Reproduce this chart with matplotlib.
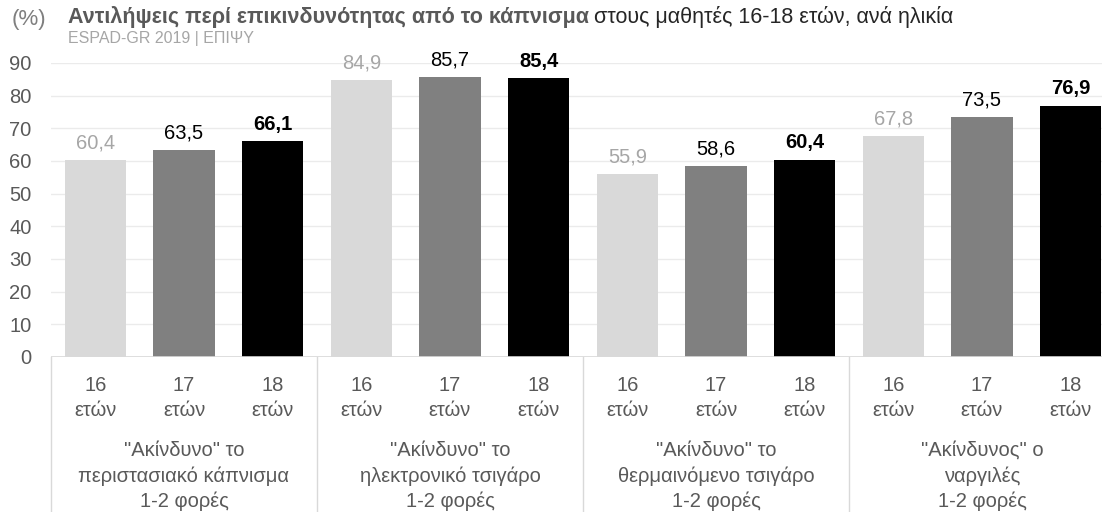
import numpy as np
import matplotlib
matplotlib.use("Agg")
import matplotlib.pyplot as plt
import matplotlib.transforms as mtransforms

plt.rcParams['font.family'] = ['Liberation Sans', 'DejaVu Sans']

# δεδομένα
ηλικιες = ["16\nετών", "17\nετών", "18\nετών"]
ομαδες = ['"Ακίνδυνο" το\nπεριστασιακό κάπνισμα\n1-2 φορές',
          '"Ακίνδυνο" το\nηλεκτρονικό τσιγάρο\n1-2 φορές',
          '"Ακίνδυνο" το\nθερμαινόμενο τσιγάρο\n1-2 φορές',
          '"Ακίνδυνος" ο\nναργιλές\n1-2 φορές']
τιμες_16 = [60.4, 84.9, 55.9, 67.8]
τιμες_17 = [63.5, 85.7, 58.6, 73.5]
τιμες_18 = [66.1, 85.4, 60.4, 76.9]

χρωματα = ["#d9d9d9", "#808080", "#000000"]
χρωμα_ετικετας = ["#a6a6a6", "#000000", "#000000"]
βαρος = ["normal", "normal", "bold"]

fig = plt.figure(figsize=(11.02, 5.12), dpi=100)
ax = fig.add_axes([51/1102, 155/512, 1064/1102, 294/512])

σειρες = [τιμες_16, τιμες_17, τιμες_18]
for j, τιμες in enumerate(σειρες):
    x = np.arange(len(ομαδες)) * 3 + j
    ax.bar(x, τιμες, width=0.69, color=χρωματα[j], zorder=2)
    for xi, v in zip(x, τιμες):
        ax.text(xi, v + 3.5, f"{v:.1f}".replace(".", ","), ha="center", va="baseline",
                fontsize=14.5, color=χρωμα_ετικετας[j], fontweight=βαρος[j], clip_on=False)

ax.set_xlim(-0.5, 11.5)
ax.set_ylim(0, 90)
ax.set_yticks(range(0, 91, 10))
ax.tick_params(axis="y", length=0, labelsize=14.5, labelcolor="#595959", pad=14)
ax.set_xticks([])
for s in ax.spines.values():
    s.set_visible(False)
ax.grid(axis="y", color="#ebebeb", linewidth=1, zorder=0)
ax.axhline(0, color="#d9d9d9", linewidth=1.2, zorder=3)

trans = mtransforms.blended_transform_factory(ax.transData, ax.transAxes)
for i in range(12):
    ax.text(i, -0.138, ηλικιες[i % 3], transform=trans, ha="center", va="center",
            fontsize=14.5, color="#595959", linespacing=1.4)
for g, ομαδα in enumerate(ομαδες):
    ax.text(g * 3 + 1, -0.405, ομαδα, transform=trans, ha="center", va="center",
            fontsize=14.5, color="#595959", linespacing=1.4)
    ax.plot([g * 3 - 0.5, g * 3 - 0.5], [0, -0.53], transform=trans,
            color="#d9d9d9", linewidth=1, clip_on=False)

# τίτλοι
fig.text(12/1102, 1 - 19/512, "(%)", fontsize=16, color="#7f7f7f", va="center")
t1 = fig.text(68/1102, 1 - 17/512, "Αντιλήψεις περί επικινδυνότητας από το κάπνισμα",
              fontsize=15.5, fontweight="bold", color="#595959", va="center")
fig.canvas.draw()
bb = t1.get_window_extent()
fig.text(bb.x1 / 1102 + 5/1102, 1 - 17/512, "στους μαθητές 16-18 ετών, ανά ηλικία",
         fontsize=15.5, color="#262626", va="center")
fig.text(68/1102, 1 - 38/512, "ESPAD-GR 2019 | ΕΠΙΨΥ", fontsize=11.5, color="#a6a6a6", va="center")

fig.savefig("out.png", dpi=100)
